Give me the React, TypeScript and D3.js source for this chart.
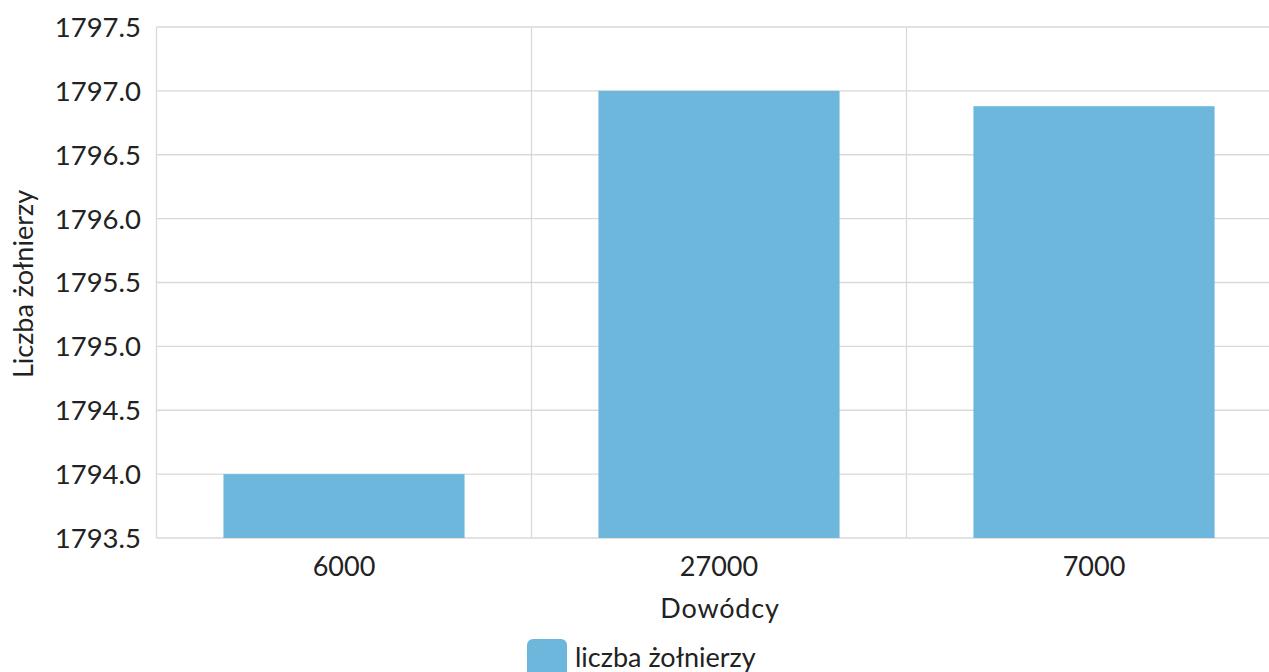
import React from "react";
import * as d3 from "d3";

const categories = ["6000", "27000", "7000"];
const values = [1794.0, 1797.0, 1796.88];
const yTicks = [1793.5, 1794.0, 1794.5, 1795.0, 1795.5, 1796.0, 1796.5, 1797.0, 1797.5];
const seriesName = "liczba żołnierzy";
const xTitle = "Dowódcy";
const yTitle = "Liczba żołnierzy";

const W = 1269;
const H = 672;
const left = 156.5;
const right = 1281.5;
const top = 27;
const bottom = 538;
const barColor = "#6db7dd";
const grid = "#d9d9d9";
const font = "Lato, 'Open Sans', sans-serif";

export default function App() {
  const x = d3.scaleBand<string>().domain(categories).range([left, right]).paddingInner(0).paddingOuter(0);
  const y = d3.scaleLinear().domain([1793.5, 1797.5]).range([bottom, top]);
  const bw = x.bandwidth();
  const barW = bw * 0.643;
  return (
    <svg width={W} height={H} style={{ position: "absolute", left: 0, top: 0 }} fontFamily={font}>
      <rect x={0} y={0} width={W} height={H} fill="#fff" />
      {yTicks.map((t) => (
        <line key={t} x1={left} x2={right} y1={y(t)} y2={y(t)} stroke={grid} strokeWidth={1.3} />
      ))}
      {categories.map((c) => (
        <line key={c} x1={x(c)!} x2={x(c)!} y1={top} y2={bottom} stroke={grid} strokeWidth={1.3} />
      ))}
      {categories.map((c, i) => (
        <rect
          key={c}
          x={x(c)! + (bw - barW) / 2}
          y={y(values[i])}
          width={barW}
          height={bottom - y(values[i])}
          fill={barColor}
        />
      ))}
      {yTicks.map((t) => (
        <text key={t} x={141} y={y(t)} dy="0.36em" textAnchor="end" fontSize={27.5} fill="#222">
          {t.toFixed(1)}
        </text>
      ))}
      {categories.map((c) => (
        <text key={c} x={x(c)! + bw / 2} y={576} textAnchor="middle" fontSize={27} fill="#222">
          {c}
        </text>
      ))}
      <text x={720} y={618} textAnchor="middle" fontSize={27} fill="#222" letterSpacing={0.8}>
        {xTitle}
      </text>
      <text
        transform={`translate(33, ${284}) rotate(-90)`}
        textAnchor="middle"
        fontSize={27}
        fill="#222"
      >
        {yTitle}
      </text>
      <rect x={527} y={639} width={40} height={40} rx={6} fill={barColor} />
      <text x={575} y={667} fontSize={27} fill="#222">
        {seriesName}
      </text>
    </svg>
  );
}
